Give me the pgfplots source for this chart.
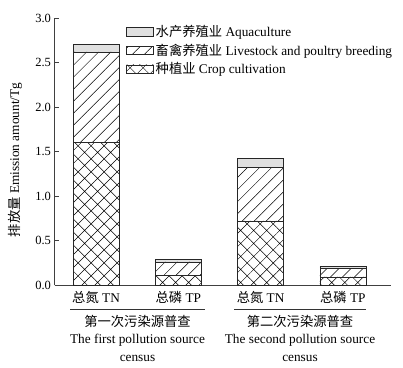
\documentclass[border=0pt]{standalone}
\usepackage{fontspec}
\setmainfont{Liberation Serif}
\newfontfamily\cjk{Noto Sans CJK SC}
\usepackage{pgfplots}
\pgfplotsset{compat=1.18}
\usetikzlibrary{patterns.meta}
\newcommand{\fs}{\fontsize{13.3}{15}\selectfont}
\begin{document}
\begin{tikzpicture}
\begin{axis}[
  at={(0,0)}, anchor=south west,
  scale only axis, width=336.5pt, height=267pt,
  ybar stacked, bar width=46pt,
  xmin=-0.505, xmax=3.585, ymin=0, ymax=3.0,
  axis lines=left, axis line style={-, black!75, line width=0.6pt},
  ytick={0,0.5,1.0,1.5,2.0,2.5,3.0},
  tick align=inside, major tick length=4pt,
  y tick style={black!75, line width=0.6pt},
  x tick style={draw=none},
  xtick={0,1,2,3},
  xticklabels={{\cjk 总氮} TN, {\cjk 总磷} TP, {\cjk 总氮} TN, {\cjk 总磷} TP},
  yticklabel style={font=\fontsize{12.5}{15}\selectfont, /pgf/number format/.cd, fixed, fixed zerofill, precision=1, assume math mode=true},
  xticklabel style={font=\fs, yshift=-3pt},
  every axis plot/.append style={draw=black!85, line width=0.5pt},
  legend style={at={(71.5pt,262pt)}, anchor=north west, draw=none, fill=none,
    font=\fs, row sep=2pt, inner sep=0pt,
    /tikz/every even column/.append style={column sep=5pt}},
  legend cell align=left,
  reverse legend,
  legend image code/.code={\draw[#1] (0pt,-4.2pt) rectangle (27pt,4.2pt);},
]
\addplot[pattern={Hatch[angle=45,distance=9.2pt,line width=0.5pt]}, pattern color=black]
  coordinates {(0,1.60) (1,0.11) (2,0.72) (3,0.09)};
\addplot[pattern={Lines[angle=45,distance=8.5pt,line width=0.5pt]}, pattern color=black]
  coordinates {(0,1.02) (1,0.15) (2,0.60) (3,0.10)};
\addplot[fill=black!12]
  coordinates {(0,0.08) (1,0.03) (2,0.10) (3,0.02)};
\legend{{\cjk 种植业} Crop cultivation, {\cjk 畜禽养殖业} Livestock and poultry breeding, {\cjk 水产养殖业} Aquaculture}
\end{axis}
\node[rotate=90, font=\fs] at (-39.5pt,125pt) {{\cjk 排放量} Emission amount/Tg};
\draw[black!80, line width=0.6pt] (15.5pt,-24pt) -- (150.5pt,-24pt);
\draw[black!80, line width=0.6pt] (179.5pt,-24pt) -- (311.5pt,-24pt);
\node[align=center, font=\fontsize{13.3}{17.5}\selectfont, anchor=north, inner sep=0pt] at (83pt,-30pt) {{\cjk 第一次污染源普查}\\The first pollution source\\census};
\node[align=center, font=\fontsize{13.3}{17.5}\selectfont, anchor=north, inner sep=0pt] at (245.5pt,-30pt) {{\cjk 第二次污染源普查}\\The second pollution source\\census};
\pgfresetboundingbox
\path[use as bounding box] (-54.5pt,-82pt) rectangle (348.5pt,285pt);
\end{tikzpicture}
\end{document}
